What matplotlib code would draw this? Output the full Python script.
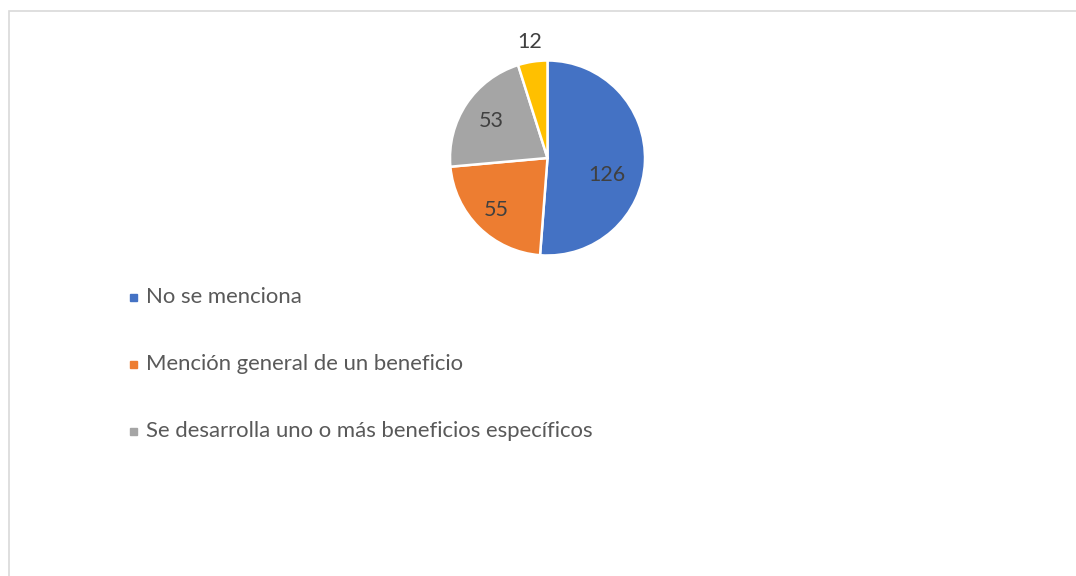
import matplotlib
matplotlib.use("Agg")
from matplotlib import pyplot as plt
from matplotlib.patches import Rectangle
import numpy as np

categories = ["No se menciona", "Mención general de un beneficio",
              "Se desarrolla uno o más beneficios específicos", "Otro"]
values = [126, 55, 53, 12]
colors = ["#4472C4", "#ED7D31", "#A5A5A5", "#FFC000"]
legend_shown = 3

W, H = 1076, 576
fig = plt.figure(figsize=(W / 100, H / 100), dpi=100)
plt.rcParams["font.family"] = ["Lato", "DejaVu Sans"]

# chart frame
fig.patches.append(Rectangle((9 / W, -0.1), 1.2, (H - 11) / H + 0.1, transform=fig.transFigure,
                             fill=False, edgecolor="#d9d9d9", linewidth=1.2))

cx, cy, r = 547.5, 158, 97.5
ax = fig.add_axes([(cx - r) / W, (H - cy - r) / H, 2 * r / W, 2 * r / H])
wedges, _ = ax.pie(values, colors=colors, startangle=90, counterclock=False, radius=1,
                   wedgeprops=dict(edgecolor="white", linewidth=1.8))
ax.set_xlim(-1, 1)
ax.set_ylim(-1, 1)
ax.set_aspect("equal")
ax.axis("off")

# label placement (distance from centre, angle tweak in degrees)
dists = [0.63, 0.75, 0.69, 1.2]
tweaks = [-14, 0, 0, 0]
for w, v, d, t in zip(wedges, values, dists, tweaks):
    ang = np.deg2rad((w.theta1 + w.theta2) / 2 + t)
    ax.text(d * np.cos(ang), d * np.sin(ang), str(v), ha="center", va="center",
            fontsize=15.5, color="#404040", clip_on=False)

# legend
rows_y = [297, 364, 431]
for i in range(legend_shown):
    y = rows_y[i]
    fig.patches.append(Rectangle((130 / W, (H - y - 4) / H), 7 / W, 7 / H,
                                 transform=fig.transFigure, color=colors[i]))
    fig.text(146 / W, (H - y) / H, categories[i], ha="left", va="center",
             fontsize=15.9, color="#595959")

fig.savefig("out.png", dpi=100, facecolor="white")
